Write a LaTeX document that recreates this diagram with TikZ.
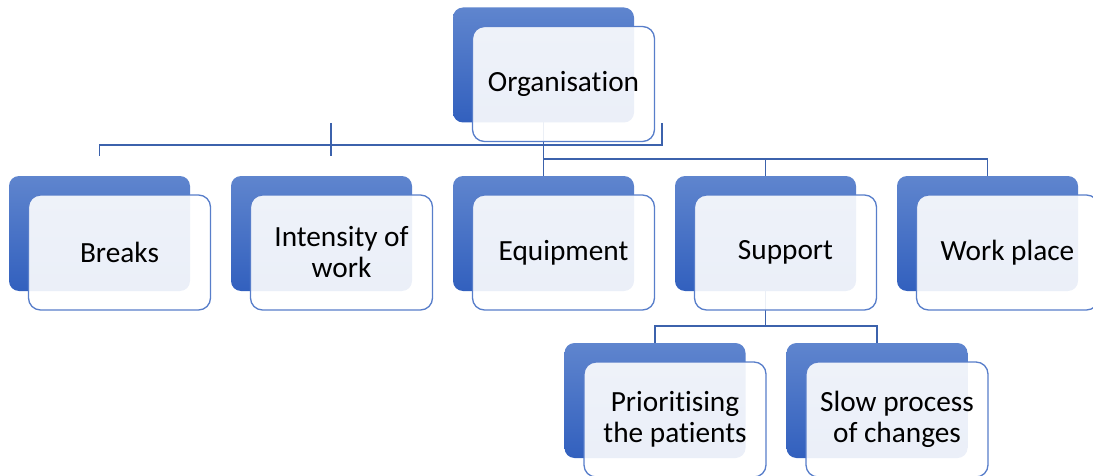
\documentclass[tikz,border=0pt]{standalone}
\usepackage{fontspec}
\setmainfont{Carlito}[Ligatures=NoCommon]
\usepackage{tikz}
\usetikzlibrary{shapes,positioning}

\definecolor{boxtop}{RGB}{95,133,206}
\definecolor{boxbottom}{RGB}{50,96,190}
\definecolor{boxline}{RGB}{88,126,202}
\definecolor{linkblue}{RGB}{60,98,172}

\tikzset{
  backbox/.style={rounded corners=10pt,minimum width=181pt,minimum height=115pt,
    inner sep=0pt,outer sep=0pt,top color=boxtop,bottom color=boxbottom,draw=none},
  frontbox/.style={draw=boxline,line width=1.3pt,rounded corners=12pt,fill=white,
    fill opacity=0.9,text opacity=1,minimum width=182pt,minimum height=115pt,
    inner sep=0pt,outer sep=0pt,align=center,text=black,
    font=\fontsize{29.3}{31}\selectfont},
  link/.style={draw=linkblue,line width=1.5pt}
}

\begin{document}
\begin{tikzpicture}[x=1pt,y=1pt]
  \useasboundingbox (0,0) rectangle (1093,475);
  \clip (0,0) rectangle (1093,475);

  % back boxes
  \node[backbox] (orgback)     at (543.5,410)  {};
  \node[backbox] (breaksback)  at (99.5,241.5) {};
  \node[backbox] (intenback)   at (321.5,241.5) {};
  \node[backbox] (equipback)   at (543.5,241.5) {};
  \node[backbox] (supportback) at (765.5,241.5) {};
  \node[backbox] (workback)    at (987.5,241.5) {};
  \node[backbox] (prioback)    at (655,74.5)   {};
  \node[backbox] (slowback)    at (877,74.5)   {};

  % connectors
  \coordinate (orgbus) at (543.5,316);
  \draw[link] (orgback.south) -- (orgbus) -| (equipback.north);
  \draw[link] (orgbus) -| (supportback.north);
  \draw[link] (orgbus) -| (workback.north);

  \coordinate (hookR)   at (662,352);
  \coordinate (hookL)   at (99.5,319);
  \coordinate (hookbar) at (0,330);
  \draw[link] (hookR) -- (hookR |- hookbar) -- (hookL |- hookbar) -- (hookL);
  \coordinate (tickT) at (331,352);
  \coordinate (tickB) at (331,319);
  \draw[link] (tickT) -- (tickB);

  \coordinate (supbus) at (765.5,149);
  \draw[link] (supportback.south) -- (supbus) -| (prioback.north);
  \draw[link] (supbus) -| (slowback.north);

  % front boxes
  \node[frontbox,xshift=20pt,yshift=-19pt] (orgfront)     at (orgback)     {Organisation};
  \node[frontbox,xshift=20pt,yshift=-19pt] (breaksfront)  at (breaksback)  {Breaks};
  \node[frontbox,xshift=20pt,yshift=-19pt] (intenfront)   at (intenback)   {Intensity of\\work};
  \node[frontbox,xshift=20pt,yshift=-19pt] (equipfront)   at (equipback)   {Equipment};
  \node[frontbox,xshift=20pt,yshift=-19pt] (supportfront) at (supportback) {Support};
  \node[frontbox,xshift=20pt,yshift=-19pt] (workfront)    at (workback)    {Work place};
  \node[frontbox,xshift=20pt,yshift=-19pt] (priofront)    at (prioback)    {Prioritising\\the patients};
  \node[frontbox,xshift=20pt,yshift=-19pt] (slowfront)    at (slowback)    {Slow process\\of changes};
\end{tikzpicture}
\end{document}
